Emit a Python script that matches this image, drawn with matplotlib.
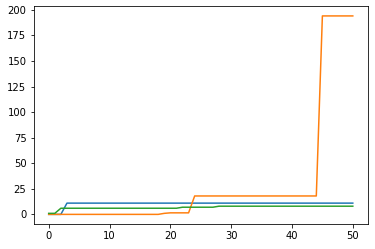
import matplotlib
matplotlib.use("Agg")
import matplotlib.pyplot as plt

x = list(range(51))
blue = [0, 0, 0] + [11] * 48
orange = [0] * 19 + [1, 1.5, 1.5, 1.5, 1.5] + [18] * 21 + [194] * 6
green = [1, 1] + [6] * 20 + [7] * 6 + [8] * 23

s = 100 / 72
plt.rcParams.update({
    "font.size": 10 / s,
    "lines.linewidth": 1.5 / s,
    "axes.linewidth": 0.8 / s,
    "xtick.major.width": 0.8 / s,
    "ytick.major.width": 0.8 / s,
    "xtick.major.size": 3.5 / s,
    "ytick.major.size": 3.5 / s,
    "xtick.major.pad": 3.5 / s,
    "ytick.major.pad": 3.5 / s,
})

fig = plt.figure(figsize=(3.75, 2.49), dpi=100)
ax = fig.add_axes([33.5 / 375, 1 - 224.3 / 249, (368 - 33.5) / 375, (224.3 - 6) / 249])
ax.plot(x, blue)
ax.plot(x, orange)
ax.plot(x, green)
ax.set_yticks([0, 25, 50, 75, 100, 125, 150, 175, 200])
fig.savefig("out.png", dpi=100)
